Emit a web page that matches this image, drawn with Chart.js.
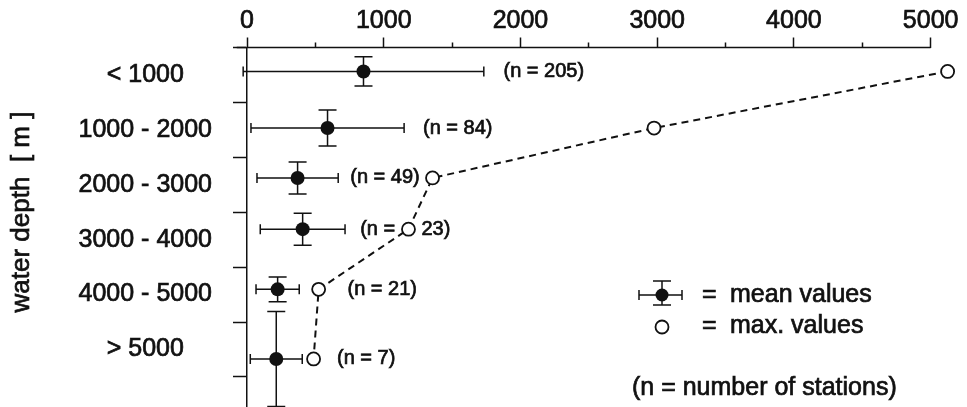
<!DOCTYPE html>
<html>
<head>
<meta charset="utf-8">
<script src="https://cdn.jsdelivr.net/npm/chart.js"></script>
<style>
  html, body { margin: 0; padding: 0; background: #fff; }
</style>
</head>
<body>
<canvas id="depthChart" width="967" height="407"></canvas>
<script>
// depth classes and station counts
const depthClasses = ['< 1000', '1000 - 2000', '2000 - 3000', '3000 - 4000', '4000 - 5000', '> 5000'];
const stationCounts = [205, 84, 49, 23, 21, 7];

// mean water depth of each class (m) and its standard deviation
const meanDepth = [436, 1467, 2376, 3309, 4405, 5673];
const depthSd = [267, 327, 291, 291, 224, 864];

// mean and max values per class
const meanValue = [852, 589, 370, 407, 224, 214];
const valueSd = [880, 560, 297, 310, 158, 190];
const maxValue = [5124, 2977, 1357, 1181, 524, 487];

// where the "(n = ...)" notes start, in value units
const countLabelAt = [1876, 1287, 755, 828, 735, 658];

// axis ticks: labelled values on top, class borders and class midpoints on the left
const valueTicks = [0, 500, 1000, 1500, 2000, 2500, 3000, 3500, 4000, 4500, 5000];
const depthTicks = [0, 500, 1000, 1500, 2000, 2500, 3000, 3500, 4000, 4500, 5000, 5500, 6000];

const ink = '#111';
const font = 'Liberation Sans, Arial, sans-serif';
const heavy = 0.7; // extra stroke on the lettering

function text(ctx, s, x, y) {
    ctx.fillText(s, x, y);
    ctx.strokeText(s, x, y);
}

function drawMeanSymbol(ctx, cx, cy, x1, x2, y1, y2, r, capH, capW) {
    ctx.beginPath();
    ctx.moveTo(x1, cy); ctx.lineTo(x2, cy);
    ctx.moveTo(x1, cy - capH); ctx.lineTo(x1, cy + capH);
    ctx.moveTo(x2, cy - capH); ctx.lineTo(x2, cy + capH);
    ctx.moveTo(cx, y1); ctx.lineTo(cx, y2);
    ctx.moveTo(cx - capW, y1); ctx.lineTo(cx + capW, y1);
    ctx.moveTo(cx - capW, y2); ctx.lineTo(cx + capW, y2);
    ctx.stroke();
    if (r) {
        ctx.beginPath();
        ctx.arc(cx, cy, r, 0, Math.PI * 2);
        ctx.fill();
    }
}

// error bars for the means, under the points
const errorBars = {
    id: 'errorBars',
    beforeDatasetsDraw(chart) {
        const {ctx, chartArea, scales: {x, y}} = chart;
        ctx.save();
        ctx.strokeStyle = ink;
        ctx.lineWidth = 1.5;

        // x axis line, from just left of zero to the last labelled tick
        ctx.beginPath();
        ctx.moveTo(x.getPixelForValue(-75), chartArea.top);
        ctx.lineTo(x.getPixelForValue(5000), chartArea.top);
        ctx.stroke();

        meanValue.forEach((v, i) => {
            drawMeanSymbol(ctx,
                x.getPixelForValue(v), y.getPixelForValue(meanDepth[i]),
                x.getPixelForValue(v - valueSd[i]), x.getPixelForValue(v + valueSd[i]),
                y.getPixelForValue(meanDepth[i] - depthSd[i]), y.getPixelForValue(meanDepth[i] + depthSd[i]),
                0, 5, 9);
        });
        ctx.restore();
    }
};

// station counts, axis title and legend
const annotations = {
    id: 'annotations',
    afterDatasetsDraw(chart) {
        const {ctx, scales: {x, y}} = chart;
        ctx.save();
        ctx.fillStyle = ink;
        ctx.strokeStyle = ink;
        ctx.lineWidth = heavy;

        ctx.font = '20px ' + font;
        ctx.textBaseline = 'middle';
        ctx.textAlign = 'left';
        stationCounts.forEach((n, i) => {
            const ty = y.getPixelForValue(meanDepth[i]);
            const pre = '(n = ';
            const post = n + ')';
            const x0 = x.getPixelForValue(countLabelAt[i]);
            text(ctx, pre, x0, ty);
            let x1 = x0 + ctx.measureText(pre).width;
            const cx = x.getPixelForValue(maxValue[i]);
            const w = ctx.measureText(post).width;
            // keep the number clear of a max marker sitting in the note
            if (cx - 7 < x1 + w && cx + 7 > x1) x1 = cx + 13;
            text(ctx, post, x1, ty);
        });

        ctx.font = '26px ' + font;
        ctx.save();
        ctx.translate(22, 212);
        ctx.rotate(-Math.PI / 2);
        ctx.textAlign = 'center';
        text(ctx, 'water depth  [ m ]', 0, 0);
        ctx.restore();

        // legend
        ctx.font = '25px ' + font;
        ctx.lineWidth = 1.5;
        drawMeanSymbol(ctx, 662, 295, 639, 682, 281, 305, 6.5, 5, 9);
        ctx.lineWidth = 1.8;
        ctx.beginPath();
        ctx.arc(662, 327, 6.5, 0, Math.PI * 2);
        ctx.fillStyle = '#fff';
        ctx.fill();
        ctx.stroke();
        ctx.fillStyle = ink;
        ctx.lineWidth = heavy;
        text(ctx, '=', 702, 295);
        text(ctx, 'mean values', 730, 295);
        text(ctx, '=', 702, 326);
        text(ctx, 'max. values', 730, 326);
        text(ctx, '(n = number of stations)', 632, 388);
        ctx.restore();
    }
};

const ctx = document.getElementById('depthChart').getContext('2d');
new Chart(ctx, {
    type: 'scatter',
    data: {
        datasets: [
            {
                label: 'max. values',
                data: maxValue.map((v, i) => ({x: v, y: meanDepth[i]})),
                showLine: true,
                borderColor: ink,
                borderWidth: 2,
                borderDash: [7, 5],
                pointRadius: 6.5,
                pointBorderWidth: 1.8,
                pointBorderColor: ink,
                pointBackgroundColor: '#fff',
                clip: false
            },
            {
                label: 'mean values',
                data: meanValue.map((v, i) => ({x: v, y: meanDepth[i]})),
                pointRadius: 7,
                pointBorderWidth: 0,
                pointBackgroundColor: ink,
                clip: false
            }
        ]
    },
    options: {
        responsive: false,
        animation: false,
        layout: { autoPadding: false, padding: { top: 0, left: 0, right: 9, bottom: 1 } },
        plugins: {
            legend: { display: false },
            tooltip: { enabled: false }
        },
        scales: {
            x: {
                type: 'linear',
                position: 'top',
                min: 0,
                max: 5200,
                afterBuildTicks: (scale) => { scale.ticks = valueTicks.map((v) => ({value: v})); },
                afterFit: (scale) => {
                    scale.height = 47.5;
                    scale.paddingLeft = 0;
                    scale.paddingRight = 0;
                },
                ticks: {
                    autoSkip: false,
                    maxRotation: 0,
                    padding: 1,
                    color: ink,
                    textStrokeColor: ink,
                    textStrokeWidth: heavy,
                    font: { family: font, size: 25 },
                    callback: (v) => (v % 1000 === 0 ? String(v) : '')
                },
                grid: {
                    drawOnChartArea: false,
                    tickLength: 10,
                    tickWidth: 1.5,
                    tickColor: ink,
                    // half-way ticks are shorter
                    tickBorderDash: (c) => (c.tick && c.tick.value % 1000 ? [5, 5] : []),
                    tickBorderDashOffset: (c) => (c.tick && c.tick.value % 1000 ? 5 : 0)
                },
                border: { display: false }
            },
            y: {
                type: 'linear',
                reverse: true,
                min: 0,
                max: 6530,
                afterBuildTicks: (scale) => { scale.ticks = depthTicks.map((v) => ({value: v})); },
                afterFit: (scale) => {
                    scale.width = 247;
                    scale.paddingTop = 0;
                    scale.paddingBottom = 0;
                },
                ticks: {
                    autoSkip: false,
                    crossAlign: 'center',
                    padding: 21,
                    color: ink,
                    textStrokeColor: ink,
                    textStrokeWidth: heavy,
                    font: { family: font, size: 25 },
                    callback: (v) => (v % 1000 === 500 ? (depthClasses[(v - 500) / 1000] || '') : '')
                },
                grid: {
                    drawOnChartArea: false,
                    tickLength: 14,
                    tickWidth: 1.5,
                    tickColor: (c) => (c.tick && c.tick.value % 1000 === 0 ? ink : 'rgba(0,0,0,0)')
                },
                border: { color: ink, width: 1.5 }
            }
        }
    },
    plugins: [errorBars, annotations]
});
</script>
</body>
</html>
